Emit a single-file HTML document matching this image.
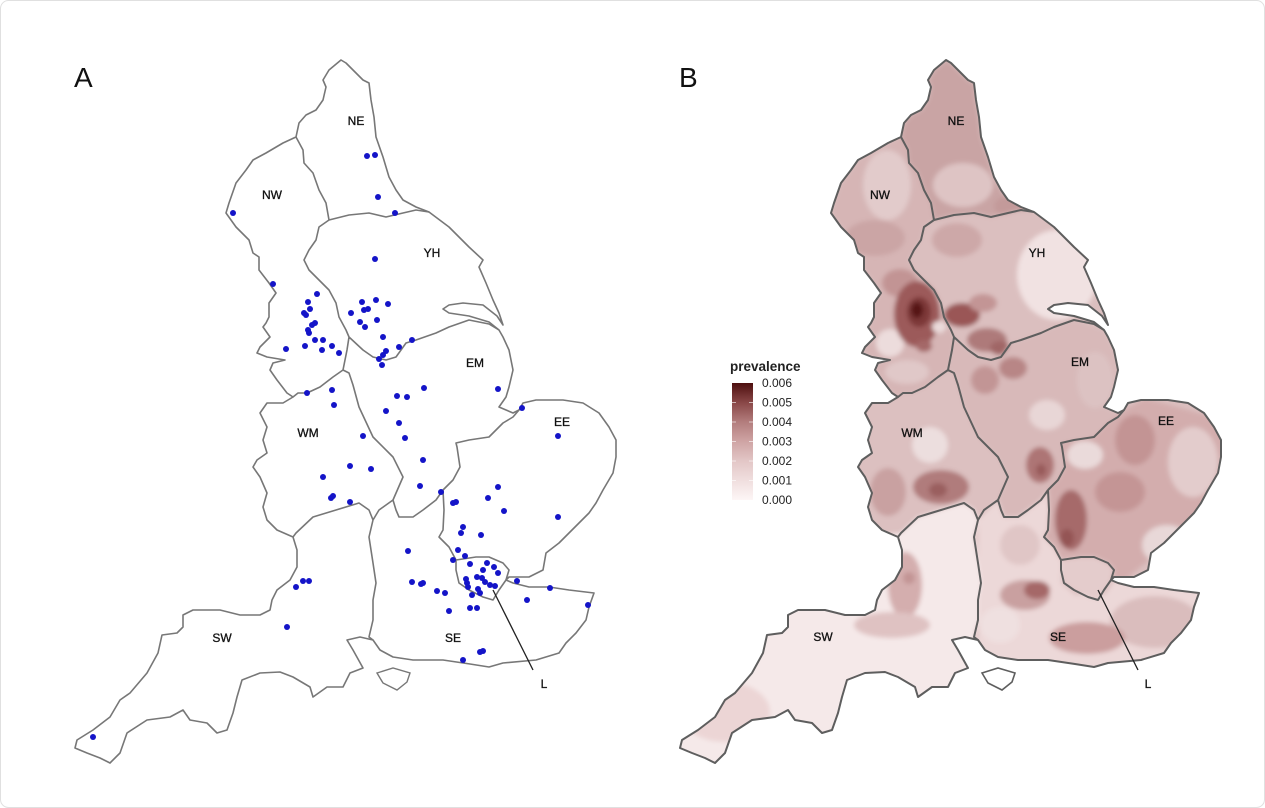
<!DOCTYPE html>
<html><head><meta charset="utf-8"><style>
html,body{margin:0;padding:0;background:#fff;}
svg{display:block;font-family:"Liberation Sans",Arial,sans-serif;}
</style></head><body>
<svg width="1265" height="808" viewBox="0 0 1265 808" xmlns="http://www.w3.org/2000/svg">
<defs>
<path id="eng" d="M293,397 L283,403 L267,403 L260,413 L267,427 L263,440 L267,453 L257,460 L253,467 L260,477 L267,493 L263,507 L267,520 L277,530 L293,537 L297,550 L297,567 L290,580 L277,590 L272,600 L270,610 L260,615 L240,615 L220,610 L193,610 L183,615 L183,627 L177,633 L162,635 L158,653 L147,673 L130,693 L120,700 L110,717 L93,730 L77,740 L75,748 L87,753 L100,758 L110,763 L120,753 L127,733 L147,720 L170,717 L183,710 L190,720 L207,723 L217,733 L227,730 L233,713 L237,697 L242,680 L260,673 L280,672 L293,677 L310,687 L313,697 L327,687 L343,687 L350,673 L363,668 L353,650 L347,640 L360,637 L373,640 L380,650 L393,657 L413,660 L443,660 L470,664 L489,667 L503,663 L536,660 L559,653 L566,643 L576,633 L586,620 L589,607 L594,593 L569,590 L549,587 L529,587 L513,583 L506,580 L509,577 L529,577 L543,570 L546,553 L559,543 L569,533 L579,523 L589,513 L596,503 L603,490 L613,473 L616,457 L616,440 L609,427 L599,413 L583,403 L563,400 L536,400 L523,403 L519,410 L513,413 L499,407 L506,397 L509,387 L513,370 L509,350 L503,337 L499,330 L489,322 L469,316 L449,313 L443,309 L449,305 L463,303 L483,305 L497,316 L503,325 L499,313 L493,300 L486,283 L479,267 L483,260 L469,247 L449,227 L429,212 L416,207 L403,200 L396,190 L389,177 L383,157 L376,137 L374,117 L371,100 L369,83 L363,80 L356,73 L346,63 L341,60 L329,70 L323,80 L326,87 L323,100 L316,110 L306,115 L299,123 L296,137 L283,143 L266,153 L253,160 L246,170 L236,183 L229,203 L226,213 L236,227 L249,240 L253,253 L259,257 L259,270 L269,283 L276,293 L269,303 L269,317 L266,323 L263,327 L270,337 L260,347 L257,353 L267,357 L285,360 L273,363 L270,370 L277,380 L287,393 Z"/>
<path id="iow" d="M377,673 L393,668 L410,673 L407,682 L397,690 L383,683 Z"/>
<path id="bord" d="M296,137 L303,150 L304,163 L313,173 L319,190 L326,203 L329,220
M329,220 L349,215 L369,213 L386,217 L403,213 L416,210 L429,212
M329,220 L319,227 L316,240 L309,250 L304,260 L309,270 L319,280 L329,290 L336,303 L339,317 L346,330 L349,337
M349,337 L363,350 L373,357 L386,360 L396,357 L406,343 L416,340 L436,333 L449,327 L469,320 L489,324 L499,330
M349,337 L347,350 L345,360 L343,370
M343,370 L333,377 L320,387 L307,393 L298,393 L293,397
M343,370 L349,373 L353,385 L359,407 L373,437 L393,457 L403,477 L393,500
M393,500 L379,510 L373,520
M373,520 L369,510 L359,503 L336,510 L313,517 L296,533 L293,537
M393,500 L396,510 L399,517 L413,517 L423,510 L436,500 L443,490
M443,490 L453,480 L460,467 L457,447 L456,443 L469,440 L489,437 L503,423 L513,417 L519,410
M443,490 L444,510 L443,530 L439,537 L449,547 L456,560
M373,520 L369,537 L373,563 L376,583 L373,600 L373,620 L369,637 L373,640
M456,560 L476,557 L489,557 L503,563 L509,570 L506,580 L499,590 L493,600 L483,597 L469,590 L459,583 L456,570 Z"/>
<clipPath id="clipEng"><use href="#eng"/></clipPath>
<filter id="soft" x="-5%" y="-5%" width="110%" height="110%"><feGaussianBlur stdDeviation="2.4"/></filter>
<linearGradient id="lg" x1="0" y1="1" x2="0" y2="0">
<stop offset="0" stop-color="#fdf6f6"/>
<stop offset="0.33" stop-color="#e3c7c7"/>
<stop offset="0.5" stop-color="#cfa4a4"/>
<stop offset="0.67" stop-color="#b27c7c"/>
<stop offset="0.83" stop-color="#8a4848"/>
<stop offset="1" stop-color="#4e0f0f"/>
</linearGradient>
</defs>

<rect x="0.5" y="0.5" width="1264" height="807" rx="8" ry="8" fill="#fff" stroke="#e0e0e0" stroke-width="1"/>

<!-- Panel A -->
<text x="74" y="87" font-size="28" fill="#111">A</text>
<g>
<use href="#eng" fill="#fff" stroke="#777" stroke-width="1.6" stroke-linejoin="round"/>
<use href="#iow" fill="#fff" stroke="#777" stroke-width="1.4"/>
<use href="#bord" fill="none" stroke="#777" stroke-width="1.6" stroke-linejoin="round"/>
<line x1="493" y1="590" x2="533" y2="670" stroke="#222" stroke-width="1.3"/>
<g fill="#1414c8">
<circle cx="367" cy="156" r="3"/><circle cx="375" cy="155" r="3"/><circle cx="378" cy="197" r="3"/><circle cx="395" cy="213" r="3"/><circle cx="233" cy="213" r="3"/><circle cx="375" cy="259" r="3"/>
<circle cx="273" cy="284" r="3"/><circle cx="317" cy="294" r="3"/><circle cx="308" cy="302" r="3"/><circle cx="304" cy="313" r="3"/><circle cx="310" cy="309" r="3"/><circle cx="306" cy="315" r="3"/><circle cx="315" cy="323" r="3"/><circle cx="312" cy="325" r="3"/><circle cx="308" cy="330" r="3"/><circle cx="309" cy="333" r="3"/><circle cx="315" cy="340" r="3"/><circle cx="323" cy="340" r="3"/><circle cx="322" cy="350" r="3"/><circle cx="332" cy="346" r="3"/><circle cx="339" cy="353" r="3"/><circle cx="305" cy="346" r="3"/><circle cx="286" cy="349" r="3"/>
<circle cx="362" cy="302" r="3"/><circle cx="376" cy="300" r="3"/><circle cx="388" cy="304" r="3"/><circle cx="351" cy="313" r="3"/><circle cx="364" cy="310" r="3"/><circle cx="368" cy="309" r="3"/><circle cx="360" cy="322" r="3"/><circle cx="377" cy="320" r="3"/><circle cx="365" cy="327" r="3"/><circle cx="383" cy="337" r="3"/><circle cx="399" cy="347" r="3"/><circle cx="412" cy="340" r="3"/><circle cx="386" cy="351" r="3"/><circle cx="383" cy="355" r="3"/><circle cx="379" cy="359" r="3"/><circle cx="382" cy="365" r="3"/>
<circle cx="424" cy="388" r="3"/><circle cx="397" cy="396" r="3"/><circle cx="407" cy="397" r="3"/><circle cx="498" cy="389" r="3"/><circle cx="522" cy="408" r="3"/><circle cx="386" cy="411" r="3"/><circle cx="332" cy="390" r="3"/><circle cx="307" cy="393" r="3"/><circle cx="334" cy="405" r="3"/><circle cx="399" cy="423" r="3"/><circle cx="363" cy="436" r="3"/><circle cx="405" cy="438" r="3"/><circle cx="423" cy="460" r="3"/><circle cx="350" cy="466" r="3"/><circle cx="371" cy="469" r="3"/><circle cx="323" cy="477" r="3"/><circle cx="420" cy="486" r="3"/><circle cx="441" cy="492" r="3"/><circle cx="331" cy="498" r="3"/><circle cx="333" cy="496" r="3"/><circle cx="350" cy="502" r="3"/><circle cx="498" cy="487" r="3"/><circle cx="488" cy="498" r="3"/><circle cx="453" cy="503" r="3"/><circle cx="456" cy="502" r="3"/><circle cx="504" cy="511" r="3"/>
<circle cx="558" cy="436" r="3"/><circle cx="558" cy="517" r="3"/><circle cx="463" cy="527" r="3"/><circle cx="461" cy="533" r="3"/><circle cx="481" cy="535" r="3"/><circle cx="458" cy="550" r="3"/><circle cx="465" cy="556" r="3"/><circle cx="453" cy="560" r="3"/><circle cx="470" cy="564" r="3"/><circle cx="487" cy="563" r="3"/><circle cx="494" cy="567" r="3"/><circle cx="483" cy="570" r="3"/><circle cx="498" cy="573" r="3"/><circle cx="477" cy="577" r="3"/><circle cx="482" cy="578" r="3"/><circle cx="466" cy="579" r="3"/><circle cx="467" cy="583" r="3"/><circle cx="485" cy="582" r="3"/><circle cx="490" cy="585" r="3"/><circle cx="495" cy="586" r="3"/><circle cx="468" cy="587" r="3"/><circle cx="478" cy="589" r="3"/><circle cx="480" cy="593" r="3"/><circle cx="472" cy="595" r="3"/><circle cx="517" cy="581" r="3"/><circle cx="437" cy="591" r="3"/><circle cx="445" cy="593" r="3"/><circle cx="527" cy="600" r="3"/><circle cx="550" cy="588" r="3"/><circle cx="588" cy="605" r="3"/><circle cx="449" cy="611" r="3"/><circle cx="470" cy="608" r="3"/><circle cx="477" cy="608" r="3"/><circle cx="480" cy="652" r="3"/><circle cx="483" cy="651" r="3"/><circle cx="463" cy="660" r="3"/><circle cx="423" cy="583" r="3"/>
<circle cx="303" cy="581" r="3"/><circle cx="309" cy="581" r="3"/><circle cx="296" cy="587" r="3"/><circle cx="287" cy="627" r="3"/><circle cx="93" cy="737" r="3"/><circle cx="408" cy="551" r="3"/><circle cx="412" cy="582" r="3"/><circle cx="421" cy="584" r="3"/>
</g>
<g font-size="12" fill="#111" stroke="#111" stroke-width="0.3" text-anchor="middle" dominant-baseline="central">
<text x="356" y="121">NE</text><text x="272" y="195">NW</text><text x="432" y="253">YH</text><text x="475" y="363">EM</text><text x="308" y="433">WM</text><text x="562" y="422">EE</text><text x="222" y="638">SW</text><text x="453" y="638">SE</text><text x="544" y="684">L</text>
</g>
</g>

<!-- Panel B -->
<text x="679" y="87" font-size="28" fill="#111">B</text>
<g transform="translate(605,0)">
<g clip-path="url(#clipEng)">
<g filter="url(#soft)">
<rect x="50" y="40" width="600" height="760" fill="#dcc0c0"/>
<!-- NE -->
<polygon fill="#c9a4a4" points="296,137 299,123 306,115 316,110 323,100 326,87 323,80 329,70 341,60 346,63 356,73 363,80 369,83 371,100 374,117 376,137 383,157 389,177 396,190 403,200 416,207 429,212 416,210 403,213 386,217 369,213 349,215 329,220 326,203 319,190 313,173 304,163 303,150"/>
<ellipse cx="358" cy="185" rx="30" ry="22" fill="#dec4c4"/>
<ellipse cx="405" cy="206" rx="16" ry="10" fill="#c39a9a"/>
<!-- NW -->
<polygon fill="#d6b5b5" points="296,137 303,150 304,163 313,173 319,190 326,203 329,220 319,227 316,240 309,250 304,260 309,270 319,280 329,290 336,303 339,317 346,330 349,337 347,350 345,360 343,370 333,377 320,387 307,393 298,393 293,397 287,393 277,380 270,370 273,363 285,360 267,357 257,353 260,347 270,337 263,327 266,323 269,317 269,303 276,293 269,283 259,270 259,257 253,253 249,240 236,227 226,213 229,203 236,183 246,170 253,160 266,153 283,143"/>
<ellipse cx="282" cy="185" rx="24" ry="35" fill="#e2cbcb"/>
<ellipse cx="270" cy="238" rx="30" ry="18" fill="#cba5a5"/>
<ellipse cx="295" cy="283" rx="18" ry="14" fill="#c29494"/>
<ellipse cx="285" cy="343" rx="14" ry="14" fill="#ecdcdc"/>
<ellipse cx="302" cy="372" rx="22" ry="12" fill="#e0c8c8"/>
<ellipse cx="312" cy="314" rx="23" ry="33" fill="#9c5a5a"/>
<ellipse cx="314" cy="312" rx="12" ry="15" fill="#7d3939"/>
<ellipse cx="312" cy="310" rx="6" ry="8" fill="#571313"/>
<ellipse cx="319" cy="346" rx="8" ry="6" fill="#a46868"/>
<ellipse cx="334" cy="327" rx="7" ry="6" fill="#eadada"/>
<!-- YH -->
<polygon fill="#dbbfbf" points="329,220 349,215 369,213 386,217 403,213 416,210 429,212 449,227 469,247 483,260 479,267 486,283 493,300 499,313 503,325 497,316 483,305 463,303 449,305 443,309 449,313 469,316 489,322 499,330 489,324 469,320 449,327 436,333 416,340 406,343 396,357 373,357 363,350 349,337 346,330 339,317 336,303 329,290 319,280 309,270 304,260 309,250 316,240 319,227"/>
<ellipse cx="452" cy="275" rx="40" ry="45" fill="#f1e2e2"/>
<ellipse cx="352" cy="240" rx="25" ry="17" fill="#cda8a8"/>
<ellipse cx="357" cy="315" rx="18" ry="12" fill="#9a5757"/>
<ellipse cx="378" cy="303" rx="14" ry="9" fill="#c39595"/>
<ellipse cx="382" cy="340" rx="20" ry="12" fill="#ae7a7a"/>
<ellipse cx="395" cy="348" rx="10" ry="7" fill="#a06666"/>
<!-- EM -->
<polygon fill="#d8b9b9" points="349,337 363,350 373,357 396,357 406,343 416,340 436,333 449,327 469,320 499,330 509,350 513,370 509,387 506,397 499,407 513,413 519,410 503,423 489,437 469,440 456,443 457,447 460,467 453,480 443,490 436,500 423,510 413,517 399,517 393,500 403,477 393,457 373,437 359,407 353,385 349,373 343,370 345,360"/>
<ellipse cx="380" cy="380" rx="14" ry="14" fill="#c29595"/>
<ellipse cx="408" cy="368" rx="14" ry="11" fill="#b88686"/>
<ellipse cx="442" cy="415" rx="18" ry="15" fill="#e8d6d6"/>
<ellipse cx="490" cy="380" rx="18" ry="28" fill="#dcc2c2"/>
<ellipse cx="435" cy="465" rx="14" ry="18" fill="#ad7474"/>
<ellipse cx="436" cy="470" rx="5" ry="6" fill="#985a5a"/>
<!-- WM -->
<polygon fill="#dcc0c0" points="293,397 298,393 307,393 320,387 333,377 343,370 349,373 353,385 359,407 373,437 393,457 403,477 393,500 379,510 373,520 369,510 359,503 336,510 313,517 296,533 293,537 277,530 267,520 263,507 267,493 260,477 253,467 257,460 267,453 263,440 267,427 260,413 267,403 283,403"/>
<ellipse cx="325" cy="445" rx="18" ry="18" fill="#ecdede"/>
<ellipse cx="336" cy="487" rx="28" ry="17" fill="#b07b7b"/>
<ellipse cx="333" cy="490" rx="9" ry="7" fill="#9a5f5f"/>
<ellipse cx="283" cy="492" rx="18" ry="24" fill="#c9a1a1"/>
<!-- EE -->
<polygon fill="#d3adad" points="443,490 453,480 460,467 457,447 456,443 469,440 489,437 503,423 519,410 540,398 620,420 620,500 580,530 520,580 506,580 509,570 503,563 489,557 476,557 456,560 449,547 439,537 443,530 444,510"/>
<ellipse cx="480" cy="455" rx="18" ry="14" fill="#eadada"/>
<ellipse cx="530" cy="440" rx="20" ry="25" fill="#c39494"/>
<ellipse cx="588" cy="462" rx="25" ry="35" fill="#e3cccc"/>
<ellipse cx="515" cy="492" rx="25" ry="20" fill="#c49595"/>
<ellipse cx="562" cy="545" rx="25" ry="20" fill="#e8d8d8"/>
<ellipse cx="466" cy="520" rx="16" ry="30" fill="#a66b6b"/>
<ellipse cx="462" cy="538" rx="7" ry="9" fill="#945555"/>
<!-- SE -->
<polygon fill="#ecd8d8" points="373,520 393,500 396,510 399,517 413,517 423,510 436,500 443,490 444,510 443,530 439,537 449,547 456,560 456,583 470,595 500,595 510,580 600,590 600,690 373,690"/>
<ellipse cx="550" cy="622" rx="45" ry="26" fill="#dabdbd"/>
<ellipse cx="482" cy="638" rx="38" ry="16" fill="#cb9e9e"/>
<ellipse cx="420" cy="595" rx="25" ry="15" fill="#c9a0a0"/>
<ellipse cx="432" cy="590" rx="13" ry="9" fill="#a56868"/>
<ellipse cx="415" cy="545" rx="20" ry="20" fill="#e0c6c6"/>
<ellipse cx="395" cy="625" rx="20" ry="18" fill="#efe0e0"/>
<polygon fill="#e4cccc" points="456,560 476,557 489,557 503,563 509,570 506,580 499,590 493,600 483,597 469,590 459,583 456,570"/>
<!-- SW -->
<polygon fill="#f5e9e9" points="250,537 296,533 313,517 336,510 359,503 369,510 373,520 369,537 373,563 376,583 373,600 373,620 369,637 373,645 373,720 50,790 50,600"/>
<ellipse cx="300" cy="585" rx="17" ry="33" fill="#d4aeae"/>
<ellipse cx="287" cy="625" rx="38" ry="13" fill="#dfc2c2"/>
<ellipse cx="304" cy="578" rx="6" ry="6" fill="#c29494"/>
<ellipse cx="120" cy="712" rx="45" ry="30" fill="#ecd5d5"/>
</g>
</g>
<use href="#eng" fill="none" stroke="#5e5e5e" stroke-width="2" stroke-linejoin="round"/>
<use href="#iow" fill="#fff" stroke="#5e5e5e" stroke-width="1.6"/>
<use href="#bord" fill="none" stroke="#5e5e5e" stroke-width="2" stroke-linejoin="round"/>
<line x1="493" y1="590" x2="533" y2="670" stroke="#222" stroke-width="1.3"/>
<g font-size="12" fill="#111" stroke="#111" stroke-width="0.3" text-anchor="middle" dominant-baseline="central">
<text x="351" y="121">NE</text><text x="275" y="195">NW</text><text x="432" y="253">YH</text><text x="475" y="362">EM</text><text x="307" y="433">WM</text><text x="561" y="421">EE</text><text x="218" y="637">SW</text><text x="453" y="637">SE</text><text x="543" y="684">L</text>
</g>
</g>

<!-- Legend -->
<text x="730" y="371" font-size="13.5" font-weight="bold" fill="#222">prevalence</text>
<rect x="732" y="383" width="21" height="117" fill="url(#lg)"/>
<g stroke="#fff" stroke-opacity="0.6" stroke-width="1">
<line x1="732" y1="402.5" x2="736" y2="402.5"/><line x1="749" y1="402.5" x2="753" y2="402.5"/>
<line x1="732" y1="422" x2="736" y2="422"/><line x1="749" y1="422" x2="753" y2="422"/>
<line x1="732" y1="441.5" x2="736" y2="441.5"/><line x1="749" y1="441.5" x2="753" y2="441.5"/>
<line x1="732" y1="461" x2="736" y2="461"/><line x1="749" y1="461" x2="753" y2="461"/>
<line x1="732" y1="480.5" x2="736" y2="480.5"/><line x1="749" y1="480.5" x2="753" y2="480.5"/>
</g>
<g font-size="12" fill="#222" dominant-baseline="central">
<text x="762" y="383">0.006</text>
<text x="762" y="402.5">0.005</text>
<text x="762" y="422">0.004</text>
<text x="762" y="441.5">0.003</text>
<text x="762" y="461">0.002</text>
<text x="762" y="480.5">0.001</text>
<text x="762" y="500">0.000</text>
</g>
</svg>
</body></html>
